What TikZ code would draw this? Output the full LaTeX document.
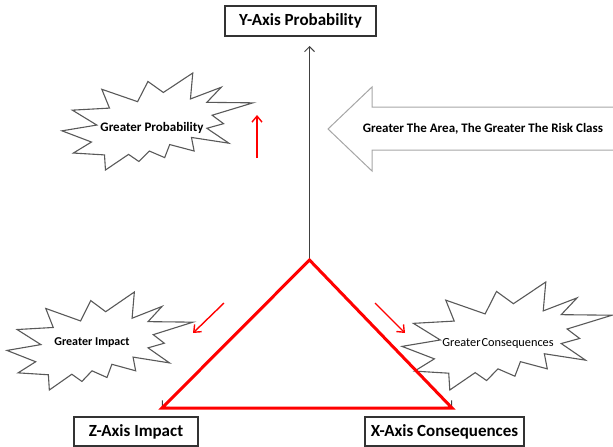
\documentclass[tikz,border=0pt]{standalone}
\usepackage{fontspec}
\setmainfont{Carlito}
\usetikzlibrary{arrows.meta}
\newcommand\drawexplosion[4]{%
  \draw[starline, shift={(#1,#2)}, xscale=#3/100, yscale=#4/100]
    (53.06,20.10) -- (68.47,0) -- (67.25,26.75) -- (83.37,14.69) -- (75.83,30.24)
    -- (100,30.76) -- (78.63,43.53) -- (84.58,52.27) -- (75.83,56.99) -- (87.39,72.37)
    -- (67.78,66.44) -- (69.18,80.42) -- (56.39,73.77) -- (53.76,87.23) -- (45.70,80.42)
    -- (40.28,91.26) -- (34.85,83.91) -- (22.76,100) -- (22.25,84.44) -- (5.95,82.52)
    -- (15.42,71.16) -- (0,59.62) -- (18.22,53.67) -- (5.43,38.29) -- (24.87,36.19)
    -- (20.84,16.78) -- (39.58,29.55) -- (45.01,8.74) -- cycle;}
\begin{document}
\begin{tikzpicture}[x=1pt,y=-1pt,
  axisbox/.style={draw=black!80, line width=1.1pt, minimum height=30pt, inner sep=0pt,
    font=\fontsize{17}{20}\selectfont\bfseries, text=black},
  starline/.style={draw=black!65, line width=1.1pt, fill=white, line join=miter},
  redarr/.style={red, line width=1.4pt, -{Straight Barb[length=6pt,width=10pt]}},
  axisarr/.style={black!75, line width=1pt, -{Straight Barb[length=5pt,width=10pt]}},
  bigarrow/.style={draw=black!35, line width=1pt, line join=miter},
  tribold/.style={font=\fontsize{13}{15}\selectfont\bfseries, text=black, inner sep=0pt},
  trireg/.style={font=\fontsize{12.3}{15}\selectfont, text=black, inner sep=0pt}
]
\useasboundingbox (0,0) rectangle (613,447);
% explosions
\drawexplosion{62}{73}{191}{97}
\drawexplosion{7}{292}{186}{98}
\drawexplosion{402}{282}{210}{108}
% big hollow arrow
\draw[bigarrow] (616,107) -- (372,107) -- (372,87) -- (328,129) -- (372,171) -- (372,150) -- (616,150);
% axes
\coordinate (apex) at (309.5,260);
\coordinate (bl) at (162,408);
\coordinate (br) at (452,408);
\coordinate (ytip) at (309.5,46);
\draw[axisarr] (apex) -- (ytip);
\draw[axisarr] (apex) -- (bl);
\draw[axisarr] (apex) -- (br);
\draw[red, line width=3pt, line join=miter] (apex) -- (bl) -- (br) -- cycle;
% red arrows
\coordinate (ua) at (257,158);
\coordinate (ub) at (257,115);
\coordinate (la) at (224,303);
\coordinate (lb) at (193,333);
\coordinate (ra) at (375,303);
\coordinate (rb) at (405,333);
\draw[redarr] (ua) -- (ub);
\draw[redarr] (la) -- (lb);
\draw[redarr] (ra) -- (rb);
% boxes
\node[axisbox, minimum width=151pt] (ybox) at (300.5,21) {Y-Axis Probability};
\node[axisbox, minimum width=124pt, minimum height=29pt] (zbox) at (136,431.5) {Z-Axis Impact};
\node[axisbox, minimum width=159pt, minimum height=29pt] (xbox) at (444.5,431.5) {X-Axis Consequences};
% texts
\node[tribold] (tprob) at (152,128) {Greater Probability};
\node[tribold] (tarea) at (483,129) {Greater The Area, The Greater The Risk Class};
\node[tribold, font=\fontsize{12}{14}\selectfont\bfseries] (timp) at (92,343) {Greater Impact};
\node[trireg] (tcons) at (498,343) {Greater\hspace{1pt}Consequences};
\end{tikzpicture}
\end{document}
